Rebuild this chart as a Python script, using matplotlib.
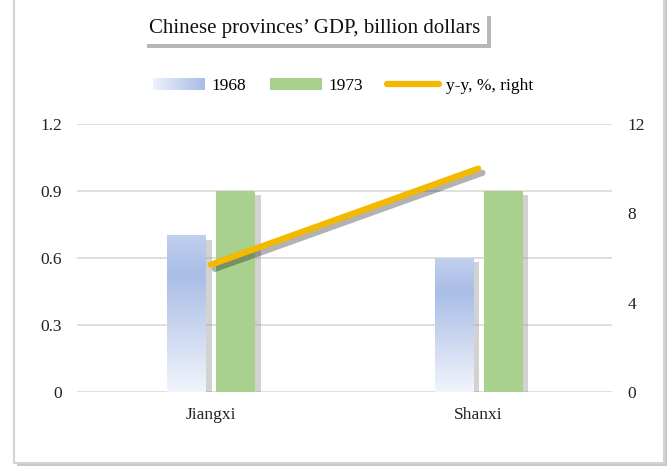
import numpy as np
import matplotlib.pyplot as plt
import matplotlib.patheffects as pe
from matplotlib.patches import Rectangle
from matplotlib.legend_handler import HandlerBase
from matplotlib.colors import LinearSegmentedColormap

plt.rcParams['font.family'] = ['Liberation Serif', 'DejaVu Serif']

provinces = ['Jiangxi', 'Shanxi']
gdp_1968 = [0.7, 0.6]
gdp_1973 = [0.9, 0.9]
yy_growth = [5.7, 10.0]
left_ticks = [0, 0.3, 0.6, 0.9, 1.2]
right_ticks = [0, 4, 8, 12]

blue_grad = LinearSegmentedColormap.from_list(
    'bg', [(0.0, '#f1f4fb'), (0.75, '#a9bde6'), (1.0, '#c2cfee')])

fig = plt.figure(figsize=(6.72, 4.67), dpi=100)

# outer frame with a soft shadow on the right / bottom
fig.patches.append(Rectangle((17 / 672, 1 / 467), 650 / 672, 470 / 467, zorder=-2,
                             transform=fig.transFigure, fc='#c8c8c8', ec='none'))
fig.patches.append(Rectangle((14 / 672, 4 / 467), 650 / 672, 470 / 467, zorder=-1,
                             transform=fig.transFigure, fc='white', ec='#d4d4d4', lw=1.5))

ax = fig.add_axes([77 / 672, 75 / 467, 535 / 672, 268 / 467])
ax.patch.set_alpha(0)
ax2 = ax.twinx()

x = np.arange(len(provinces))
w = 0.145
shadow = [pe.SimplePatchShadow(offset=(4, -3), shadow_rgbFace='#909090', alpha=0.4), pe.Normal()]

bars68 = ax.bar(x - 0.09, gdp_1968, w, color='#f1f4fb', zorder=2, path_effects=shadow)
bars73 = ax.bar(x + 0.093, gdp_1973, w, color='#a9d18e', zorder=2, path_effects=shadow)

grad = np.linspace(0, 1, 256).reshape(-1, 1)
for b in bars68:
    x0, y0 = b.get_x(), b.get_y()
    ax.imshow(grad, cmap=blue_grad, origin='lower', aspect='auto', zorder=3,
              extent=[x0, x0 + b.get_width(), y0, y0 + b.get_height()])

ax.set_xlim(-0.5, 1.5)
ax.set_ylim(0, 1.2)
ax.set_yticks(left_ticks)
ax.set_yticklabels(['0', '0.3', '0.6', '0.9', '1.2'])
ax.grid(axis='y', color='#d9d9d9', lw=1.2, zorder=0)
ax.set_axisbelow(True)
ax.set_xticks(x)
ax.set_xticklabels(provinces)
ax.tick_params(length=0, labelsize=12.5, colors='#222222')
ax.tick_params(axis='y', pad=11)
ax.tick_params(axis='x', pad=11)

ax2.plot(x, yy_growth, color='#f2b900', lw=4.5, solid_capstyle='round', zorder=4,
         path_effects=[pe.SimpleLineShadow(offset=(3, -3), alpha=0.3), pe.Normal()])
ax2.set_ylim(0, 12)
ax2.set_yticks(right_ticks)
ax2.tick_params(length=0, labelsize=12.5, colors='#222222', pad=11)

for a in (ax, ax2):
    for s in a.spines.values():
        s.set_visible(False)


class GradHandler(HandlerBase):
    def create_artists(self, legend, orig, xd, yd, width, height, fontsize, trans):
        n = 30
        arts = []
        for i in range(n):
            r = Rectangle((xd + width * i / n, yd), width / n + 0.3, height,
                          fc=blue_grad(0.05 + 0.7 * i / (n - 1)), ec='none', transform=trans)
            arts.append(r)
        return arts


h68 = Rectangle((0, 0), 1, 1)
h73 = Rectangle((0, 0), 1, 1, fc='#a9d18e')
hline = plt.Line2D([0], [0], color='#f2b900', lw=4.5, solid_capstyle='round')
fig.legend([h68, h73, hline], ['1968', '1973', 'y-y, %, right'],
           handler_map={h68: GradHandler()},
           loc='center', bbox_to_anchor=(343 / 672, 1 - 86 / 467), ncol=3, frameon=False,
           fontsize=12.5, handlelength=3.0, handleheight=0.7, columnspacing=1.35, handletextpad=0.4)

t = fig.text(315 / 672, 1 - 28 / 467, 'Chinese provinces\u2019 GDP, billion dollars',
             ha='center', va='center', fontsize=15, color='#111111',
             bbox=dict(boxstyle='square,pad=0.3', fc='white', ec='none'))
t.get_bbox_patch().set_path_effects([pe.SimplePatchShadow(offset=(3, -3), alpha=0.4), pe.Normal()])

fig.savefig('out.png', dpi=100)
